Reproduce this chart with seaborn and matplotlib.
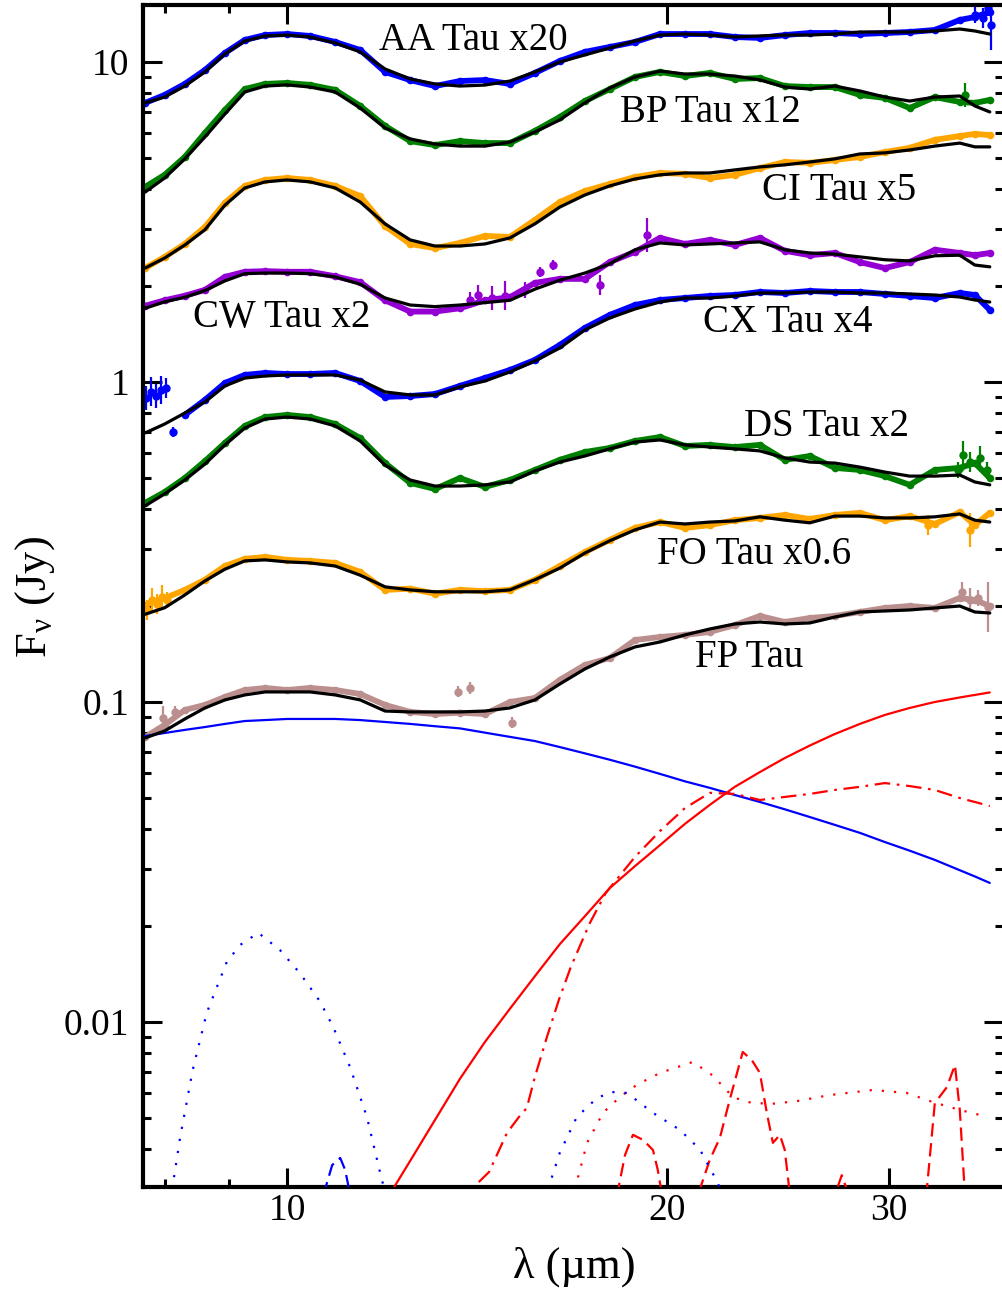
import matplotlib
matplotlib.use("Agg")
import matplotlib.pyplot as plt
import seaborn as sns
import numpy as np
import pandas as pd
from matplotlib.ticker import NullFormatter

# ------------------------------------------------------------------ data
wl = [7.72, 8.00, 8.30, 8.61, 8.93, 9.26, 9.61, 10.00, 10.43, 10.92, 11.43, 11.96,
      12.52, 13.10, 13.71, 14.35, 15.02, 15.72, 16.45, 17.22, 18.02, 18.87, 19.75,
      20.67, 21.63, 22.64, 23.70, 24.80, 25.96, 27.17, 28.44, 29.77, 31.15, 32.61,
      34.13, 35.08, 36.05]

aa_obs = [7.45, 7.89, 8.54, 9.44, 10.67, 11.72, 12.14, 12.23, 12.06, 11.55, 10.90, 9.31,
          8.78, 8.41, 8.72, 8.78, 8.54, 9.24, 10.07, 10.75, 11.14, 11.55, 12.23, 12.23,
          12.23, 11.97, 11.89, 12.14, 12.32, 12.32, 12.23, 12.32, 12.41, 12.59, 13.53,
          13.82, 14.33]
aa_mod = [7.45, 7.77, 8.41, 9.31, 10.6, 11.63, 12.06, 12.14, 11.97, 11.47, 10.75, 9.51,
          8.85, 8.54, 8.41, 8.47, 8.72, 9.31, 10.0, 10.52, 11.06, 11.63, 12.14, 12.23,
          12.14, 11.97, 12.06, 12.14, 12.14, 12.23, 12.41, 12.41, 12.41, 12.50, 12.68,
          12.50, 12.23]
bp_obs = [4.07, 4.44, 5.05, 6.00, 7.08, 8.23, 8.54, 8.60, 8.48, 8.18, 7.29, 6.31, 5.66,
          5.50, 5.66, 5.58, 5.58, 6.09, 6.73, 7.55, 8.23, 8.98, 9.31, 9.04, 9.24, 8.85,
          8.91, 8.41, 8.35, 8.35, 7.89, 7.72, 7.18, 7.77, 7.50, 7.45, 7.61]
bp_mod = [3.92, 4.34, 4.98, 5.83, 6.88, 8.06, 8.41, 8.48, 8.35, 8.06, 7.18, 6.22, 5.75,
          5.54, 5.46, 5.46, 5.62, 6.04, 6.59, 7.45, 8.29, 8.98, 9.37, 9.17, 9.17, 9.04,
          8.79, 8.35, 8.23, 8.41, 8.12, 7.77, 7.55, 7.77, 7.83, 7.29, 6.98]
ci_obs = [2.27, 2.46, 2.70, 3.05, 3.63, 4.10, 4.28, 4.34, 4.28, 4.10, 3.81, 3.07, 2.70,
          2.62, 2.72, 2.86, 2.84, 3.21, 3.65, 3.95, 4.16, 4.37, 4.50, 4.47, 4.34, 4.44,
          4.66, 4.87, 4.84, 4.94, 5.05, 5.23, 5.39, 5.71, 5.87, 5.96, 5.91]
ci_mod = [2.27, 2.44, 2.68, 2.99, 3.57, 4.04, 4.22, 4.28, 4.22, 4.04, 3.65, 3.12, 2.78,
          2.66, 2.66, 2.70, 2.82, 3.12, 3.52, 3.84, 4.10, 4.31, 4.44, 4.50, 4.50, 4.60,
          4.70, 4.77, 4.87, 4.98, 5.16, 5.20, 5.31, 5.46, 5.58, 5.43, 5.43]
cw_obs = [1.73, 1.80, 1.86, 1.94, 2.13, 2.21, 2.22, 2.21, 2.21, 2.14, 2.05, 1.80, 1.66,
          1.66, 1.70, 1.80, 1.84, 2.04, 2.10, 2.10, 2.37, 2.55, 2.82, 2.70, 2.78, 2.68,
          2.82, 2.57, 2.49, 2.53, 2.37, 2.27, 2.37, 2.59, 2.53, 2.49, 2.53]
cw_mod = [1.70, 1.78, 1.84, 1.93, 2.07, 2.18, 2.19, 2.19, 2.18, 2.13, 2.02, 1.83, 1.74,
          1.72, 1.74, 1.77, 1.80, 1.95, 2.08, 2.19, 2.34, 2.59, 2.72, 2.68, 2.70, 2.72,
          2.74, 2.59, 2.53, 2.51, 2.46, 2.41, 2.39, 2.48, 2.49, 2.32, 2.29]
cx_obs = [0.879, 0.931, 0.789, 0.879, 0.993, 1.052, 1.067, 1.059, 1.059, 1.067, 1.007,
          0.898, 0.904, 0.917, 0.972, 1.029, 1.090, 1.172, 1.305, 1.475, 1.620, 1.740,
          1.804, 1.830, 1.857, 1.870, 1.911, 1.897, 1.925, 1.911, 1.911, 1.884, 1.857,
          1.830, 1.897, 1.870, 1.679]
cx_mod = [0.693, 0.739, 0.800, 0.866, 0.972, 1.029, 1.044, 1.052, 1.052, 1.052, 1.014,
          0.931, 0.911, 0.911, 0.965, 1.007, 1.075, 1.163, 1.277, 1.454, 1.585, 1.691,
          1.778, 1.830, 1.830, 1.857, 1.897, 1.897, 1.911, 1.911, 1.897, 1.897, 1.884,
          1.870, 1.843, 1.804, 1.778]
ds_obs = [0.419, 0.453, 0.501, 0.566, 0.645, 0.729, 0.777, 0.789, 0.777, 0.739, 0.668,
          0.558, 0.484, 0.463, 0.501, 0.470, 0.494, 0.531, 0.571, 0.604, 0.622, 0.654,
          0.673, 0.631, 0.636, 0.626, 0.636, 0.571, 0.587, 0.539, 0.531, 0.508, 0.477,
          0.531, 0.539, 0.558, 0.501]
ds_mod = [0.410, 0.447, 0.494, 0.554, 0.636, 0.718, 0.766, 0.777, 0.766, 0.729, 0.654,
          0.550, 0.494, 0.473, 0.473, 0.477, 0.487, 0.527, 0.562, 0.587, 0.618, 0.649,
          0.659, 0.636, 0.626, 0.618, 0.609, 0.579, 0.562, 0.558, 0.542, 0.523, 0.508,
          0.508, 0.512, 0.487, 0.477]
fo_obs = [0.201, 0.211, 0.224, 0.241, 0.266, 0.280, 0.284, 0.278, 0.276, 0.272, 0.255,
          0.224, 0.226, 0.218, 0.224, 0.222, 0.224, 0.241, 0.266, 0.294, 0.321, 0.350,
          0.365, 0.350, 0.357, 0.370, 0.376, 0.384, 0.373, 0.384, 0.390, 0.370, 0.381,
          0.360, 0.392, 0.357, 0.390]
fo_mod = [0.188, 0.197, 0.216, 0.239, 0.260, 0.276, 0.278, 0.274, 0.272, 0.266, 0.249,
          0.229, 0.224, 0.221, 0.221, 0.221, 0.224, 0.241, 0.262, 0.292, 0.319, 0.345,
          0.365, 0.360, 0.365, 0.368, 0.379, 0.370, 0.363, 0.381, 0.381, 0.376, 0.376,
          0.379, 0.387, 0.370, 0.365]
fp_obs = [0.0777, 0.0848, 0.0944, 0.0979, 0.1037, 0.1090, 0.1106, 0.1090, 0.1106, 0.1090,
          0.1059, 0.0979, 0.0931, 0.0917, 0.0926, 0.0917, 0.1000, 0.1029, 0.1172, 0.1305,
          0.1372, 0.1562, 0.1596, 0.1620, 0.1655, 0.1740, 0.1857, 0.1778, 0.1830, 0.1857,
          0.1911, 0.1967, 0.1995, 0.1967, 0.2114, 0.2083, 0.1995]
fp_mod = [0.0772, 0.0812, 0.0885, 0.0958, 0.1015, 0.1052, 0.1075, 0.1075, 0.1075, 0.1052,
          0.1015, 0.0937, 0.0931, 0.0931, 0.0931, 0.0937, 0.0958, 0.1015, 0.1138, 0.1268,
          0.1382, 0.1486, 0.1540, 0.1620, 0.1691, 0.1753, 0.1778, 0.1753, 0.1766, 0.1843,
          0.1911, 0.1925, 0.1939, 0.1967, 0.1995, 0.1911, 0.1897]

# FP Tau model components
star_phot = [0.0783, 0.0800, 0.0818, 0.0835, 0.0854, 0.0872, 0.0878, 0.0885, 0.0885,
             0.0885, 0.0878, 0.0866, 0.0854, 0.0840, 0.0827, 0.0802, 0.0778, 0.0755,
             0.0723, 0.0691, 0.0660, 0.0628, 0.0596, 0.0565, 0.0539, 0.0512, 0.0487,
             0.0462, 0.0437, 0.0413, 0.0390, 0.0365, 0.0343, 0.0321, 0.0298, 0.0285, 0.0272]
wall_wl = [12.13, 12.52, 13.10, 13.71, 14.35, 15.02, 15.72, 16.45, 17.22, 18.02, 18.87,
           19.75, 20.67, 21.63, 22.64, 23.70, 24.80, 25.96, 27.17, 28.44, 29.77, 31.15,
           32.61, 34.13, 35.08, 36.05]
wall = [0.00300, 0.00368, 0.00494, 0.00664, 0.00866, 0.0110, 0.0139, 0.0175, 0.0214,
        0.0262, 0.0307, 0.0357, 0.0416, 0.0477, 0.0543, 0.0604, 0.0668, 0.0731, 0.0794,
        0.0854, 0.0911, 0.0958, 0.1000, 0.1033, 0.1052, 0.1071]
outer_wl = [14.19, 14.46, 14.94, 15.27, 15.49, 15.72, 16.07, 16.42, 16.79, 17.38, 17.89,
            18.87, 19.75, 20.67, 21.63, 22.64, 23.70, 24.80, 25.96, 27.17, 28.44, 29.77,
            31.15, 32.61, 34.13, 35.08, 36.05]
outer = [0.00316, 0.00340, 0.00450, 0.00505, 0.00539, 0.00673, 0.00898, 0.0117, 0.0149,
         0.0204, 0.0253, 0.0328, 0.0395, 0.0466, 0.0520, 0.0516, 0.0494, 0.0505, 0.0516,
         0.0531, 0.0543, 0.0558, 0.0546, 0.0531, 0.0501, 0.0487, 0.0473]
red_dash_wl = [18.02, 18.30, 18.53, 18.80, 19.15, 19.50, 19.67, 19.82, 20.12, 20.86,
               21.24, 21.63, 22.03, 22.43, 22.97, 23.35, 23.70, 24.00, 24.27, 24.58,
               24.80, 25.03, 25.51, 27.02, 27.27, 27.52, 27.77, 28.03, 31.73, 32.14,
               32.61, 33.34, 33.83, 34.13, 34.45, 35.08, 36.05]
red_dash = [0.0025, 0.003, 0.00384, 0.00444, 0.00428, 0.00398, 0.00345, 0.0029, 0.0025,
            0.0025, 0.003, 0.00371, 0.00434, 0.00571, 0.00806, 0.00761, 0.00693, 0.00520,
            0.00419, 0.00444, 0.00398, 0.0029, 0.0025, 0.0025, 0.003, 0.00332, 0.003,
            0.0025, 0.0025, 0.003, 0.00558, 0.00626, 0.00734, 0.00531, 0.0029, 0.0025, 0.0025]
red_dot_wl = [16.91, 17.29, 17.80, 18.36, 18.93, 19.75, 20.97, 21.75, 22.56, 23.14, 24.13,
              25.37, 26.92, 29.12, 30.98, 32.49, 34.13, 35.92]
red_dot = [0.003, 0.00419, 0.00520, 0.00583, 0.00636, 0.00693, 0.00750, 0.00680, 0.00583,
           0.00562, 0.00554, 0.00566, 0.00591, 0.00613, 0.00600, 0.00562, 0.00531, 0.00505]
blue_dash_wl = [10.62, 10.72, 10.86, 11.02, 11.12, 11.20, 11.32]
blue_dash = [0.0025, 0.003, 0.00357, 0.00376, 0.00345, 0.003, 0.0025]
blue_dot1_wl = [8.11, 8.23, 8.42, 8.64, 8.96, 9.18, 9.49, 9.87, 10.24, 10.62, 10.88,
                11.22, 11.57, 11.89, 11.98]
blue_dot1 = [0.003, 0.00437, 0.00708, 0.0107, 0.0154, 0.0174, 0.0190, 0.0168, 0.0142,
             0.0116, 0.00965, 0.00723, 0.00505, 0.00321, 0.0029]
blue_dot2_wl = [16.10, 16.45, 16.97, 17.61, 18.09, 18.60, 19.50, 20.48, 21.24, 21.95, 22.11]
blue_dot2 = [0.003, 0.0039, 0.00505, 0.00579, 0.00604, 0.00600, 0.00520, 0.00460,
             0.00400, 0.00314, 0.0029]

# points with visible error bars: wavelength, flux, fractional error
aa_err = ([35.08, 35.62, 35.92, 36.12], [14.02, 13.73, 14.75, 13.05], [0.06, 0.075, 0.06, 0.2])
bp_err = ([34.45], [7.89], [0.09])
cw_err = ([13.96, 14.17, 14.54, 14.88, 15.44, 15.87, 16.25, 17.70, 19.29],
          [1.804, 1.870, 1.830, 1.857, 1.939, 2.207, 2.32, 2.010, 2.880],
          [0.06, 0.075, 0.09, 0.11, 0.06, 0.04, 0.04, 0.075, 0.13])
cx_err = ([7.73, 7.80, 7.88, 7.95, 8.02, 8.12], [0.891, 0.931, 0.904, 0.944, 0.958, 0.698],
          [0.09, 0.11, 0.09, 0.105, 0.075, 0.04])
ds_err = ([34.00, 34.32, 34.76, 35.40, 35.85], [0.531, 0.591, 0.562, 0.579, 0.531],
          [0.06, 0.11, 0.075, 0.09, 0.06])
fo_err = ([7.74, 7.82, 7.89, 7.96, 8.04, 32.20, 34.76],
          [0.194, 0.208, 0.202, 0.213, 0.208, 0.357, 0.345],
          [0.075, 0.09, 0.075, 0.09, 0.06, 0.075, 0.13])
fp_err = ([7.98, 8.15, 13.66, 13.96, 15.07, 34.26, 34.76, 35.27, 35.92],
          [0.0891, 0.0931, 0.1075, 0.1106, 0.0860, 0.2207, 0.2083, 0.2114, 0.1981],
          [0.09, 0.045, 0.04, 0.045, 0.04, 0.075, 0.09, 0.06, 0.2])

labels = ["AA Tau x20", "BP Tau x12", "CI Tau x5", "CW Tau x2", "CX Tau x4",
          "DS Tau x2", "FO Tau x0.6", "FP Tau"]
colors = ["#0000ff", "#008000", "#ffa500", "#9400d3", "#0000ff", "#008000", "#ffa500",
          "#bc8f8f"]
# first grid index covered by the continuous spectrum (CX starts after its noisy edge)
band_start = [0, 0, 0, 0, 2, 0, 0, 0]

# ------------------------------------------------------------------ style
sns.set_theme(style="ticks")
plt.rcParams["font.family"] = ["Liberation Serif", "DejaVu Serif"]
plt.rcParams["mathtext.fontset"] = "stix"

fig = plt.figure(figsize=(10.02, 12.95), dpi=100)
ax = fig.add_axes([143 / 1002, 108 / 1295, 860 / 1002, 1182 / 1295])
ax.set_xscale("log")
ax.set_yscale("log")


def line(x, y, **kw):
    df = pd.DataFrame({"x": x, "y": y})
    sns.lineplot(data=df, x="x", y="y", ax=ax, estimator=None, sort=False,
                 legend=False, **kw)


obs = [aa_obs, bp_obs, ci_obs, cw_obs, cx_obs, ds_obs, fo_obs, fp_obs]
mods = [aa_mod, bp_mod, ci_mod, cw_mod, cx_mod, ds_mod, fo_mod, fp_mod]
errs = [aa_err, bp_err, None, cw_err, cx_err, ds_err, fo_err, fp_err]

for o, m, e, c, s0 in zip(obs, mods, errs, colors, band_start):
    line(wl[s0:], o[s0:], color=c, lw=4.2, marker="o", ms=5.5, mec=c, mew=0, zorder=2)
    if e is not None:
        ew, ef, efr = (np.array(v, dtype=float) for v in e)
        lo = ef - ef / (1 + efr)
        hi = ef * efr
        ax.errorbar(ew, ef, yerr=[lo, hi], fmt="o", ms=5, color=c, mec=c,
                    elinewidth=1.6, capsize=0, zorder=2)
    line(wl, m, color="black", lw=2.3, zorder=4)

# model components
line(wl, star_phot, color="#0000ff", lw=1.6, zorder=3)
line(wall_wl, wall, color="#ff0000", lw=1.6, zorder=3)
line(outer_wl, outer, color="#ff0000", lw=1.6, linestyle=(0, (7, 3, 1.2, 3)), zorder=3)
line(red_dash_wl, red_dash, color="#ff0000", lw=1.6, linestyle=(0, (6, 3)), zorder=3)
line(red_dot_wl, red_dot, color="#ff0000", lw=1.6, linestyle=(0, (1, 4.5)), zorder=3)
line(blue_dash_wl, blue_dash, color="#0000ff", lw=1.6, linestyle=(0, (6, 3)), zorder=3)
line(blue_dot1_wl, blue_dot1, color="#0000ff", lw=1.6, linestyle=(0, (1, 4.5)), zorder=3)
line(blue_dot2_wl, blue_dot2, color="#0000ff", lw=1.6, linestyle=(0, (1, 4.5)), zorder=3)

# ------------------------------------------------------------------ axes
ax.set_xlim(7.69, 36.93)
ax.set_ylim(0.00305, 15.07)

ax.set_xticks([10, 20, 30])
ax.set_xticklabels(["10", "20", "30"])
ax.set_xticks([8, 9], minor=True)
ax.xaxis.set_minor_formatter(NullFormatter())
ax.set_yticks([0.01, 0.1, 1, 10])
ax.set_yticklabels(["0.01", "0.1", "1", "10"])
yminor = [k * d for d in (0.001, 0.01, 0.1, 1, 10) for k in range(2, 10)]
ax.set_yticks([v for v in yminor if 0.00305 < v < 15.07], minor=True)
ax.yaxis.set_minor_formatter(NullFormatter())

ax.tick_params(which="both", direction="in", top=True, right=True, color="black",
               labelsize=27, labelcolor="black")
ax.tick_params(which="major", length=14, width=2.2)
ax.tick_params(which="minor", length=6, width=2.2)
ax.tick_params(axis="x", which="major", pad=5)
ax.tick_params(axis="y", which="major", pad=10)
for s in ax.spines.values():
    s.set_linewidth(3)
    s.set_color("black")
    s.set_visible(True)

ax.set_xlabel("λ (µm)", fontsize=32, color="black")
ax.set_ylabel(r"F$_{\mathregular{ν}}$ (Jy)", fontsize=32, color="black")
ax.xaxis.set_label_coords(0.502, -0.050)
ax.yaxis.set_label_coords(-0.100, 0.499)

# curve labels (pixel anchors: left edge, vertical centre)
label_px = [(379, 40), (620, 112), (762, 190), (193, 318), (703, 323), (744, 427),
            (657, 555), (695, 657)]
for txt, (px, py) in zip(labels, label_px):
    fig.text(px / 1002, 1 - py / 1295, txt, fontsize=28, ha="left", va="center",
             color="black")

fig.savefig("out.png", dpi=100)
